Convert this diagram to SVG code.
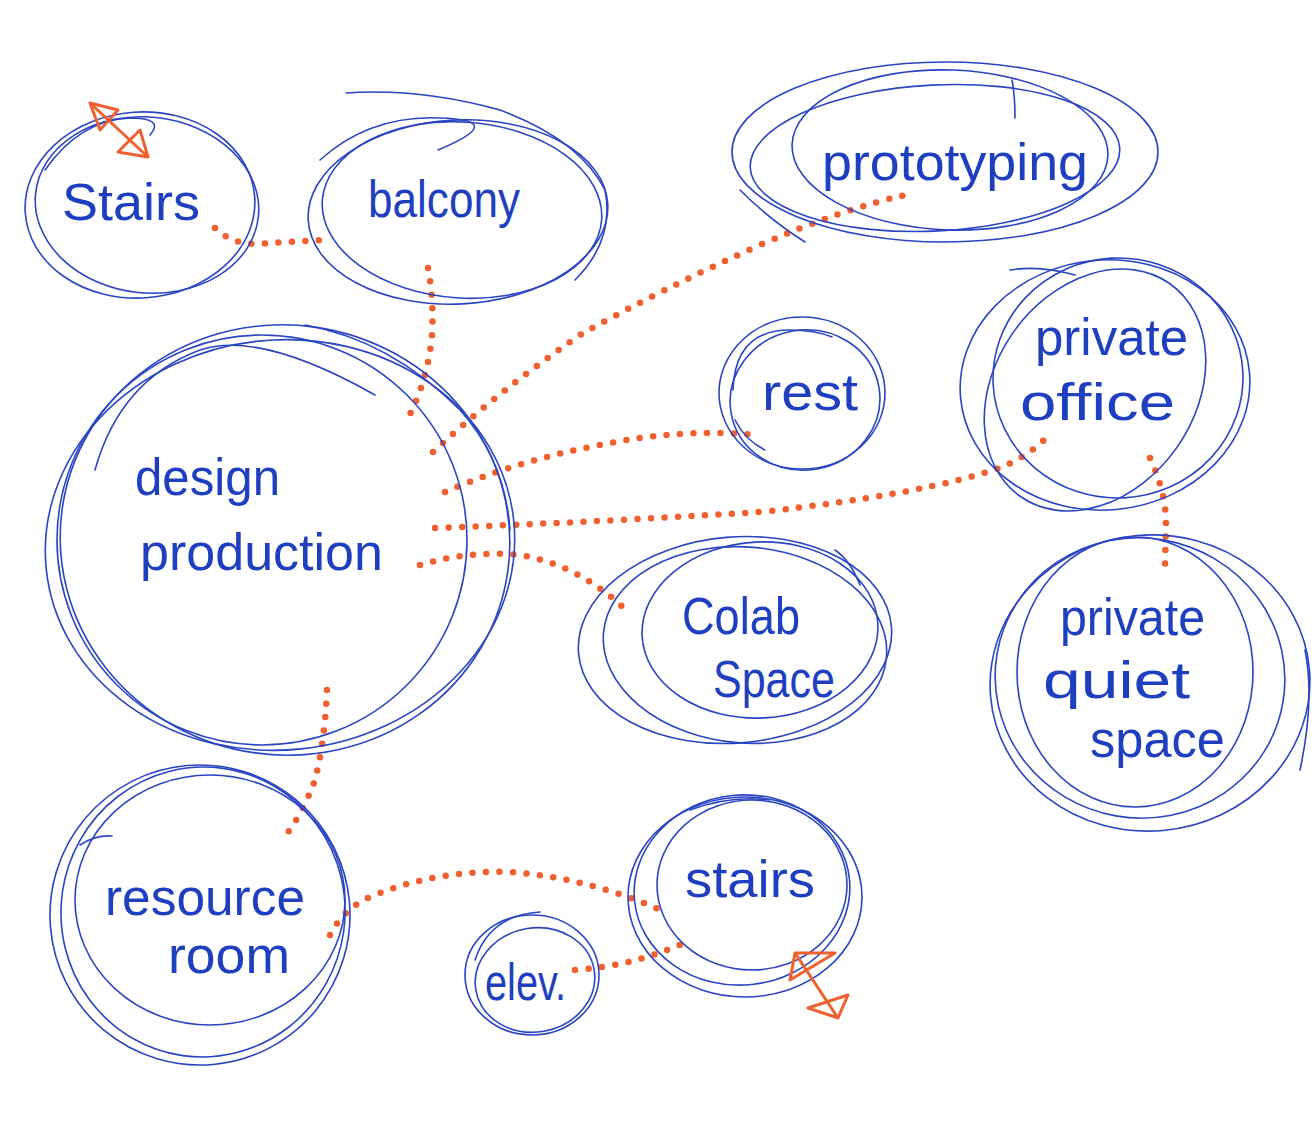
<svg xmlns="http://www.w3.org/2000/svg" width="1316" height="1126" viewBox="0 0 1316 1126">
<style>
.b{fill:none;stroke:#2a45c2;stroke-width:1.6;stroke-linecap:round}
.t{font-family:"Liberation Sans",sans-serif;font-size:52px;fill:#1d3fc0}
.d{fill:none;stroke:#f0602e;stroke-width:6.5;stroke-linecap:round;stroke-dasharray:0 13.5}
.a{fill:none;stroke:#f0602e;stroke-width:3;stroke-linecap:round;stroke-linejoin:round}
</style>
<rect width="1316" height="1126" fill="#fff"/>
<g id="connectors">
<path class="d" d="M215,228 Q230,243 255,244 L322,240"/>
<path class="d" d="M428,268 Q434,300 432,335 Q428,380 408,418"/>
<path class="d" d="M433,452 Q500,390 580,335 Q660,290 760,245 Q840,210 905,195"/>
<path class="d" d="M445,492 Q520,460 600,445 Q680,428 757,435"/>
<path class="d" d="M435,528 Q600,522 760,512 Q920,495 1000,468 Q1030,455 1047,437"/>
<path class="d" d="M420,565 Q470,550 520,555 Q580,565 628,612"/>
<path class="d" d="M327,690 Q325,740 315,780 Q302,815 285,836"/>
<path class="d" d="M1150,458 Q1165,490 1166,520 L1165,568"/>
<path class="d" d="M330,935 Q345,905 380,893 Q440,870 510,872 Q590,878 665,912"/>
<path class="d" d="M575,970 Q640,965 690,940"/>
</g>
<g id="stairs-top">
<ellipse class="b" cx="140" cy="205" rx="115" ry="93" transform="rotate(-4 140 205)"/>
<ellipse class="b" cx="147" cy="205" rx="112" ry="88" transform="rotate(6 147 205)"/>
<path class="b" d="M45,170 Q80,120 130,118 Q165,118 150,135"/>
<path class="a" d="M90,103 L148,157 M90,103 L100,130 L118,110 Z M148,157 L118,152 L120,150 L140,130 Z"/>
<text class="t" x="62" y="220" textLength="138" lengthAdjust="spacingAndGlyphs">Stairs</text>
</g>
<g id="balcony">
<ellipse class="b" cx="458" cy="212" rx="150" ry="92" transform="rotate(-3 458 212)"/>
<ellipse class="b" cx="462" cy="210" rx="140" ry="88" transform="rotate(4 462 210)"/>
<path class="b" d="M346,93 Q420,88 500,110 Q580,140 605,190 Q615,240 575,280"/>
<path class="b" d="M320,160 Q370,115 440,118 Q510,120 438,150"/>
<text class="t" x="368" y="217" textLength="152" lengthAdjust="spacingAndGlyphs">balcony</text>
</g>
<g id="prototyping">
<ellipse class="b" cx="945" cy="152" rx="213" ry="90"/>
<ellipse class="b" cx="935" cy="158" rx="185" ry="73" transform="rotate(-3 935 158)"/>
<ellipse class="b" cx="950" cy="150" rx="158" ry="80" transform="rotate(2 950 150)"/>
<path class="b" d="M740,190 Q770,220 805,242"/>
<path class="b" d="M1012,80 Q1015,95 1015,118"/>
<text class="t" x="822" y="180" textLength="266" lengthAdjust="spacingAndGlyphs">prototyping</text>
</g>
<g id="design-production">
<ellipse class="b" cx="280" cy="545" rx="235" ry="205" transform="rotate(-6 280 545)"/>
<ellipse class="b" cx="285" cy="540" rx="225" ry="215" transform="rotate(8 285 540)"/>
<ellipse class="b" cx="262" cy="540" rx="205" ry="205"/>
<path class="b" d="M305,325 Q390,340 460,410 Q505,460 510,530"/>
<path class="b" d="M95,470 Q120,380 200,350 Q260,330 375,395"/>
<text class="t" x="135" y="495" textLength="145" lengthAdjust="spacingAndGlyphs">design</text>
<text class="t" x="140" y="570" textLength="243" lengthAdjust="spacingAndGlyphs">production</text>
</g>
<g id="rest">
<ellipse class="b" cx="802" cy="393" rx="83" ry="76"/>
<ellipse class="b" cx="805" cy="400" rx="75" ry="70" transform="rotate(-10 805 400)"/>
<path class="b" d="M733,390 Q735,330 790,330 Q815,330 832,337"/>
<path class="b" d="M735,420 Q745,440 765,450"/>
<text class="t" x="762" y="410" textLength="96" lengthAdjust="spacingAndGlyphs">rest</text>
</g>
<g id="private-office">
<ellipse class="b" cx="1105" cy="385" rx="145" ry="125" transform="rotate(-5 1105 385)"/>
<ellipse class="b" cx="1118" cy="378" rx="125" ry="120" transform="rotate(-3 1118 378)"/>
<ellipse class="b" cx="1095" cy="390" rx="130" ry="100" transform="rotate(-55 1095 390)"/>
<path class="b" d="M1010,270 Q1040,265 1075,275"/>
<text class="t" x="1035" y="355" textLength="153" lengthAdjust="spacingAndGlyphs">private</text>
<text class="t" x="1020" y="420" textLength="155" lengthAdjust="spacingAndGlyphs">office</text>
</g>
<g id="colab-space">
<ellipse class="b" cx="735" cy="640" rx="157" ry="103" transform="rotate(-5 735 640)"/>
<ellipse class="b" cx="745" cy="645" rx="142" ry="98" transform="rotate(5 745 645)"/>
<ellipse class="b" cx="760" cy="630" rx="118" ry="88" transform="rotate(-3 760 630)"/>
<path class="b" d="M835,550 Q850,560 860,585"/>
<text class="t" x="682" y="634" font-size="38" textLength="118" lengthAdjust="spacingAndGlyphs">Colab</text>
<text class="t" x="713" y="697" font-size="38" textLength="122" lengthAdjust="spacingAndGlyphs">Space</text>
</g>
<g id="private-quiet-space">
<ellipse class="b" cx="1150" cy="683" rx="160" ry="148" transform="rotate(-5 1150 683)"/>
<ellipse class="b" cx="1140" cy="678" rx="145" ry="140" transform="rotate(10 1140 678)"/>
<ellipse class="b" cx="1135" cy="672" rx="118" ry="135"/>
<path class="b" d="M1305,650 Q1315,700 1300,770"/>
<text class="t" x="1060" y="635" textLength="145" lengthAdjust="spacingAndGlyphs">private</text>
<text class="t" x="1043" y="698" textLength="147" lengthAdjust="spacingAndGlyphs">quiet</text>
<text class="t" x="1090" y="757" textLength="135" lengthAdjust="spacingAndGlyphs">space</text>
</g>
<g id="resource-room">
<ellipse class="b" cx="200" cy="915" rx="150" ry="150" transform="rotate(-5 200 915)"/>
<ellipse class="b" cx="203" cy="912" rx="142" ry="145" transform="rotate(8 203 912)"/>
<ellipse class="b" cx="210" cy="900" rx="135" ry="125"/>
<path class="b" d="M80,845 Q95,835 112,836"/>
<text class="t" x="105" y="915" textLength="200" lengthAdjust="spacingAndGlyphs">resource</text>
<text class="t" x="168" y="973" textLength="122" lengthAdjust="spacingAndGlyphs">room</text>
</g>
<g id="elev">
<ellipse class="b" cx="532" cy="975" rx="67" ry="60"/>
<ellipse class="b" cx="535" cy="980" rx="60" ry="52" transform="rotate(-10 535 980)"/>
<path class="b" d="M475,960 Q490,915 540,912"/>
<text class="t" x="485" y="1000" font-size="46" textLength="81" lengthAdjust="spacingAndGlyphs">elev.</text>
</g>
<g id="stairs-bottom">
<ellipse class="b" cx="745" cy="897" rx="117" ry="100"/>
<ellipse class="b" cx="742" cy="890" rx="108" ry="95" transform="rotate(-6 742 890)"/>
<ellipse class="b" cx="752" cy="885" rx="95" ry="85"/>
<path class="b" d="M690,810 Q730,795 770,800"/>
<path class="a" d="M795,953 L838,1018 M795,953 L790,980 L835,953 Z M838,1018 L808,1008 L848,995 Z"/>
<text class="t" x="685" y="897" textLength="130" lengthAdjust="spacingAndGlyphs">stairs</text>
</g>
</svg>
